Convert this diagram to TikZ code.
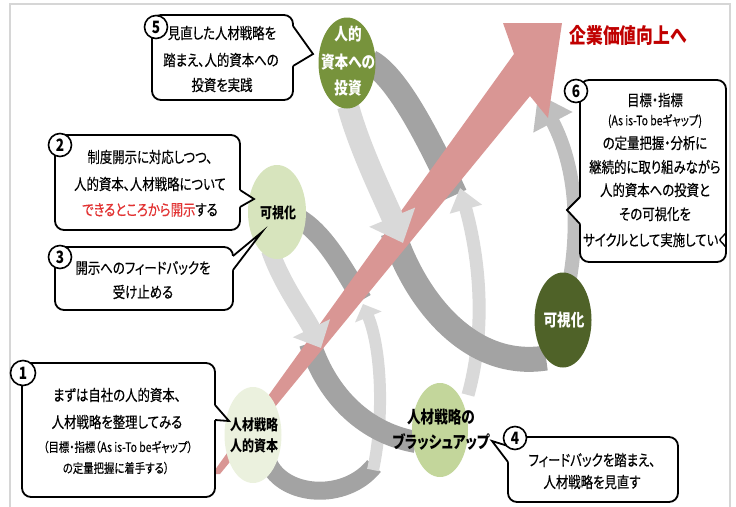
\documentclass[tikz,border=0pt]{standalone}
\usepackage{fontspec}
\usepackage{graphicx}
\newfontfamily\jp{Noto Sans CJK JP}[RawFeature=+palt, FakeStretch=0.8, UprightFeatures={FakeBold=0.35}]
\usetikzlibrary{arrows.meta,shapes.geometric}
\definecolor{redarrow}{HTML}{D99694}
\definecolor{darkband}{HTML}{A3A3A3}
\definecolor{lightband}{HTML}{D9D9D9}
\definecolor{midband}{HTML}{BFBFBF}
\definecolor{nonecol}{HTML}{EBF1DE}
\definecolor{ntwocol}{HTML}{D7E4BD}
\definecolor{nthreecol}{HTML}{77933C}
\definecolor{nfourcol}{HTML}{C3D69B}
\definecolor{nfivecol}{HTML}{4F6228}
\definecolor{titlered}{HTML}{C00000}
\definecolor{textred}{HTML}{E23232}
\definecolor{framegray}{HTML}{D6D6D6}
\begin{document}
\begin{tikzpicture}[x=1pt,y=-1pt,
  dk/.style={draw=darkband, line width=#1},
  lt/.style={draw=lightband, line width=#1},
  md/.style={draw=midband, line width=#1},
  blob/.style={ellipse, inner sep=0pt, draw=none},
  cbox/.style={draw=black, line width=1.8pt, fill=white, rounded corners=9pt},
  wedgeline/.style={draw=black, line width=1.8pt, line join=miter},
  numc/.style={circle, draw=black, line width=1.6pt, fill=white, minimum size=23pt, inner sep=0pt, font=\jp\bfseries\fontsize{17}{17}\selectfont},
  jtxt/.style={inner sep=0pt, font=\jp\fontsize{15.5}{17}\selectfont},
  jsmall/.style={inner sep=0pt, font=\jp\fontsize{13}{15}\selectfont},
  jbold/.style={inner sep=0pt, font=\jp\bfseries\fontsize{15}{17}\selectfont},
  jwhite/.style={inner sep=0pt, text=white, font=\jp\bfseries\fontsize{17}{19}\selectfont}
]
\useasboundingbox (0,0) rectangle (736,506);
\draw[framegray, line width=1.5pt] (10,4) rectangle (730,520);

% dark bands behind
\draw[dk=18] (268,462) .. controls (283,497) and (345,502) .. (374,466);
\draw[dk=20] (298,218) .. controls (322,232) and (340,262) .. (362,300);
\draw[dk=25] (370,62) .. controls (395,75) and (425,130) .. (455,195);
% rising bands
\draw[lt=12, -{Triangle[length=14pt,width=28pt]}] (373,470) .. controls (384,420) and (382,350) .. (363,304);
\draw[lt=13, -{Triangle[length=22pt,width=32pt]}] (468,395) .. controls (486,330) and (480,260) .. (460,188);
\draw[md=14, -{Triangle[length=32pt,width=42pt]}] (570,278) .. controls (578,230) and (578,170) .. (538,94);
% front dark bands
\draw[dk=22] (310,343) .. controls (325,390) and (360,432) .. (416,442);
\draw[dk=25] (393,232) .. controls (415,300) and (470,370) .. (546,358);

% red arrow
\fill[redarrow] (212,474) -- (514,54) -- (503,23) -- (562,23) -- (548,118) -- (530,96) -- (220,474) -- cycle;

% descending light bands with heads over the red arrow
\draw[lt=18, -{Triangle[length=22pt,width=40pt]}] (270,250) .. controls (282,285) and (305,315) .. (321,348);
\draw[lt=22, -{Triangle[length=28pt,width=48pt]}] (348,106) .. controls (360,150) and (385,200) .. (403,243);

% nodes
\node[blob, fill=nonecol, minimum width=57pt, minimum height=96pt] (n1) at (253,435) {};
\node[blob, fill=ntwocol, minimum width=58pt, minimum height=94pt] (n2) at (277,212) {};
\node[blob, fill=nthreecol, minimum width=57pt, minimum height=91pt] (n3) at (347,63) {};
\node[blob, fill=nfourcol, minimum width=56pt, minimum height=94pt] (n4) at (440,430) {};
\node[blob, fill=nfivecol, minimum width=57pt, minimum height=95pt] (n5) at (563,320) {};

\node[jbold] (n1a) at (254,425) {人材戦略};
\node[jbold] (n1b) at (254,446) {人的資本};
\node[jbold] (n2a) at (278,213) {可視化};
\node[jwhite] (n3a) at (348,34) {人的};
\node[jwhite] (n3b) at (348,62) {資本への};
\node[jwhite] (n3c) at (348,88) {投資};
\node[jbold, font=\jp\bfseries\fontsize{17}{18}\selectfont] (n4a) at (441,417) {人材戦略の};
\node[jbold, font=\jp\bfseries\fontsize{17}{18}\selectfont] (n4b) at (441,442) {ブラッシュアップ};
\node[jwhite] (n5a) at (564,320) {可視化};

% title
\node[inner sep=0pt, text=titlered, font=\jp\bfseries\fontsize{21}{23}\selectfont] (title) at (628,35) {企業価値向上へ};

% callout 5
\draw[cbox] (152,15) rectangle (293,100);
\fill[white] (291,26) -- (293,26) -- (313,54) -- (293,66) -- (291,66) -- cycle;
\draw[wedgeline] (293,26) -- (313,54) -- (293,66);
\node[numc] (c5) at (156,27) {5};
\node[jtxt] (t5a) at (222,33) {見直した人材戦略を};
\node[jtxt] (t5b) at (221,60) {踏まえ、人的資本への};
\node[jtxt] (t5c) at (222,85) {投資を実践};

% callout 2
\draw[cbox] (55,135) rectangle (240,230);
\fill[white] (238,190) -- (240,190) -- (254,199) -- (240,207) -- (238,207) -- cycle;
\draw[wedgeline] (240,190) -- (254,199) -- (240,207);
\node[numc] (c2) at (60,145) {2};
\node[jtxt] (t2a) at (150,157) {制度開示に対応しつつ、};
\node[jtxt] (t2b) at (150,184) {人的資本、人材戦略について};
\node[jtxt] (t2c) at (150,210) {{\color{textred}できるところから開示}する};

% callout 3
\draw[cbox] (55,247) rectangle (233,310);
\fill[white] (231,256) -- (233,256) -- (262,232) -- (233,270) -- (231,270) -- cycle;
\draw[wedgeline] (233,256) -- (262,232) -- (233,270);
\node[numc] (c3) at (60,257) {3};
\node[jtxt] (t3a) at (143,268) {開示へのフィードバックを};
\node[jtxt] (t3b) at (143,292) {受け止める};

% callout 1
\draw[cbox] (22,363) rectangle (215,497);
\fill[white] (213,405) -- (215,405) -- (229,421) -- (215,420) -- (213,420) -- cycle;
\draw[wedgeline] (215,405) -- (229,421) -- (215,420);
\node[numc, minimum size=25pt] (c1) at (23,373) {1};
\node[jtxt] (t1a) at (117,395) {まずは自社の人的資本、};
\node[jtxt] (t1b) at (117,422) {人材戦略を整理してみる};
\node[jsmall] (t1c) at (118,447) {（目標・指標（As is-To beギャップ）};
\node[jsmall] (t1d) at (116,468) {の定量把握に着手する）};

% callout 4
\draw[cbox] (508,437) rectangle (678,502);
\fill[white] (510,446) -- (508,446) -- (492,441) -- (508,462) -- (510,462) -- cycle;
\draw[wedgeline] (508,446) -- (492,441) -- (508,462);
\node[numc] (c4) at (515,438) {4};
\node[jtxt] (t4a) at (592,460) {フィードバックを踏まえ、};
\node[jtxt] (t4b) at (592,482) {人材戦略を見直す};

% callout 6
\draw[cbox] (580,80) rectangle (726,262);
\fill[white] (582,197) -- (580,197) -- (567,210) -- (580,224) -- (582,224) -- cycle;
\draw[wedgeline] (580,197) -- (567,210) -- (580,224);
\node[numc] (c6) at (576,91) {6};
\node[jtxt] (t6a) at (655,100) {目標・指標};
\node[jsmall] (t6b) at (655,121) {(As is-To beギャップ)};
\node[jtxt] (t6c) at (655,143) {の定量把握・分析に};
\node[jtxt] (t6d) at (655,167) {継続的に取り組みながら};
\node[jtxt] (t6e) at (655,190) {人的資本への投資と};
\node[jtxt] (t6f) at (655,214) {その可視化を};
\node[jtxt] (t6g) at (655,240) {サイクルとして実施していく};
\end{tikzpicture}
\end{document}
